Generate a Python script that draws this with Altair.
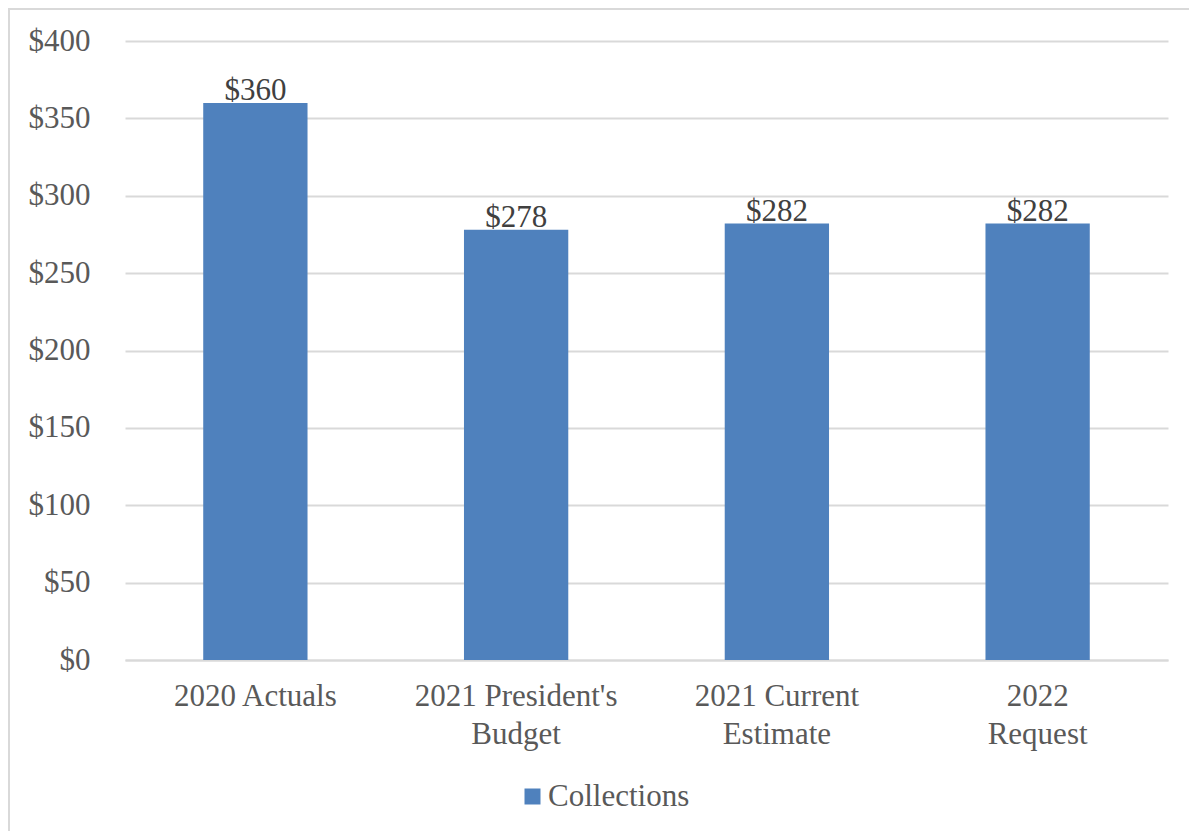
import altair as alt
import pandas as pd

categories = ["2020 Actuals", "2021 President's\nBudget", "2021 Current\nEstimate", "2022\nRequest"]
values = [360, 278, 282, 282]
value_labels = ["$360", "$278", "$282", "$282"]
series = ["Collections"] * 4

df = pd.DataFrame({"cat": categories, "val": values, "lab": value_labels, "series": series})

FONT = "Liberation Serif"
GRAY = "#595959"
BLUE = "#4F81BD"

x = alt.X("cat:N", sort=categories, title=None,
          scale=alt.Scale(paddingInner=0.6, paddingOuter=0.3),
          axis=alt.Axis(labelAngle=0, labelFont=FONT, labelFontSize=31, labelColor=GRAY,
                        labelExpr="split(datum.label, '\\n')", labelLineHeight=38,
                        labelPadding=21, labelLimit=0, ticks=False, domain=True,
                        domainColor="#d9d9d9", domainWidth=2, labelBaseline="top"))
y = alt.Y("val:Q", title=None,
          scale=alt.Scale(domain=[0, 400], nice=False),
          axis=alt.Axis(values=list(range(0, 401, 50)), labelExpr="'$' + datum.value",
                        labelFont=FONT, labelFontSize=31, labelColor=GRAY,
                        labelPadding=35, ticks=False, domain=False,
                        gridColor="#d9d9d9", gridWidth=2))

bars = alt.Chart(df).mark_bar(color=BLUE).encode(
    x=x, y=y,
    color=alt.Color("series:N", scale=alt.Scale(range=[BLUE]), title=None,
                    legend=alt.Legend(orient="none", legendX=392, legendY=740,
                                      symbolType="square", symbolSize=256,
                                      symbolStrokeWidth=0, labelFont=FONT,
                                      labelFontSize=31, labelColor=GRAY, labelOffset=0))
)

text = alt.Chart(df).mark_text(font=FONT, fontSize=31, color="#404040",
                               baseline="alphabetic", dy=-3).encode(
    x=alt.X("cat:N", sort=categories), y="val:Q", text="lab:N")

frame = alt.Chart(df).mark_rect(fill=None, stroke="#d9d9d9", strokeWidth=2).encode(
    x=alt.value(-116), x2=alt.value(1080), y=alt.value(-32), y2=alt.value(800))

chart = alt.layer(frame, bars, text).properties(
    width=1043, height=619,
    padding={"left": 125, "top": 41, "right": 21, "bottom": 171},
    autosize=alt.AutoSizeParams(type="none"),
    background="white",
).configure_view(stroke=None)

chart.save("out.html", embed_options={"renderer": "svg", "actions": False})
